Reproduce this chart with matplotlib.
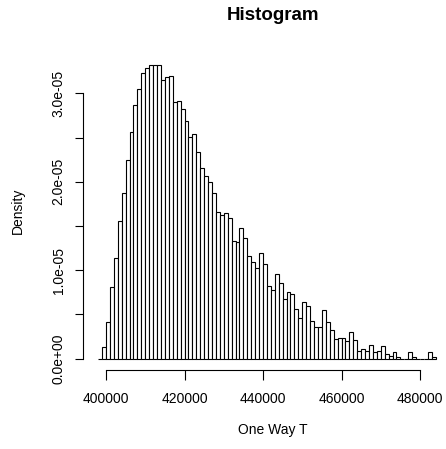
import numpy as np
import matplotlib
matplotlib.use('Agg')
import matplotlib.pyplot as plt
from matplotlib.ticker import FixedLocator, FixedFormatter

# Histogram bins (width 1000), left edges from 398000 to 483000
bin_width = 1000
bin_left = np.arange(398000, 484000, bin_width)

# Density per bin, in units of 1e-05
density_e5 = [0.00, 0.135, 0.41, 0.81, 1.14, 1.56, 1.87, 2.25, 2.56, 2.87,
              3.05, 3.23, 3.29, 3.32, 3.32, 3.32, 3.15, 3.19, 3.20, 2.90,
              2.91, 2.82, 2.69, 2.51, 2.54, 2.34, 2.15, 2.07, 2.00, 1.87,
              1.66, 1.62, 1.65, 1.59, 1.33, 1.32, 1.48, 1.36, 1.16, 1.09,
              1.03, 1.20, 1.07, 0.82, 0.78, 0.96, 0.85, 0.68, 0.75, 0.73,
              0.56, 0.46, 0.64, 0.60, 0.43, 0.36, 0.36, 0.55, 0.41, 0.32,
              0.22, 0.23, 0.23, 0.20, 0.30, 0.21, 0.09, 0.11, 0.09, 0.16,
              0.07, 0.09, 0.14, 0.05, 0.03, 0.08, 0.02, 0.00, 0.00, 0.08,
              0.02, 0.00, 0.00, 0.00, 0.07, 0.02]
density = np.array(density_e5) * 1e-05

x_ticks = [400000, 420000, 440000, 460000, 480000]
x_tick_labels = ['400000', '420000', '440000', '460000', '480000']
y_ticks = [0.0, 0.5e-05, 1.0e-05, 1.5e-05, 2.0e-05, 2.5e-05, 3.0e-05]
y_tick_labels = ['0.0e+00', '', '1.0e-05', '', '2.0e-05', '', '3.0e-05']

plt.rcParams['font.family'] = ['Liberation Sans', 'DejaVu Sans']

W, H = 446, 449
fig = plt.figure(figsize=(W / 100, H / 100), dpi=100)
# plot region in pixels: left 83, right 463 (cropped), top 52, bottom 370
ax = fig.add_axes([83 / W, (H - 370) / H, (463 - 83) / W, (370 - 52) / H])

ax.bar(bin_left, density, width=bin_width, align='edge',
       facecolor='white', edgecolor='black', linewidth=0.8)

ax.set_xlim(394140, 490955)
ax.set_ylim(-0.128e-05, 3.467e-05)

# R style axes: lines only span the first to last tick
for side in ['top', 'right']:
    ax.spines[side].set_visible(False)
ax.spines['left'].set_bounds(y_ticks[0], y_ticks[-1])
ax.spines['bottom'].set_bounds(x_ticks[0], x_ticks[-1])
ax.spines['left'].set_linewidth(0.8)
ax.spines['bottom'].set_linewidth(0.8)

ax.xaxis.set_major_locator(FixedLocator(x_ticks))
ax.xaxis.set_major_formatter(FixedFormatter(x_tick_labels))
ax.yaxis.set_major_locator(FixedLocator(y_ticks))
ax.yaxis.set_major_formatter(FixedFormatter(y_tick_labels))
ax.tick_params(axis='x', length=7, width=0.8, pad=9, labelsize=10)
ax.tick_params(axis='y', length=5.5, width=0.8, pad=7, labelsize=10)
for lbl in ax.get_yticklabels():
    lbl.set_rotation(90)
    lbl.set_verticalalignment('center')

# Titles and axis labels
fig.text(273 / W, 1 - 16 / H, 'Histogram', ha='center', va='center',
         fontsize=13.5, fontweight='bold')
fig.text(273 / W, 1 - 430 / H, 'One Way T', ha='center', va='center', fontsize=10)
fig.text(18 / W, 1 - 211 / H, 'Density', ha='center', va='center',
         rotation=90, fontsize=10)

plt.savefig('out.png', dpi=100)
